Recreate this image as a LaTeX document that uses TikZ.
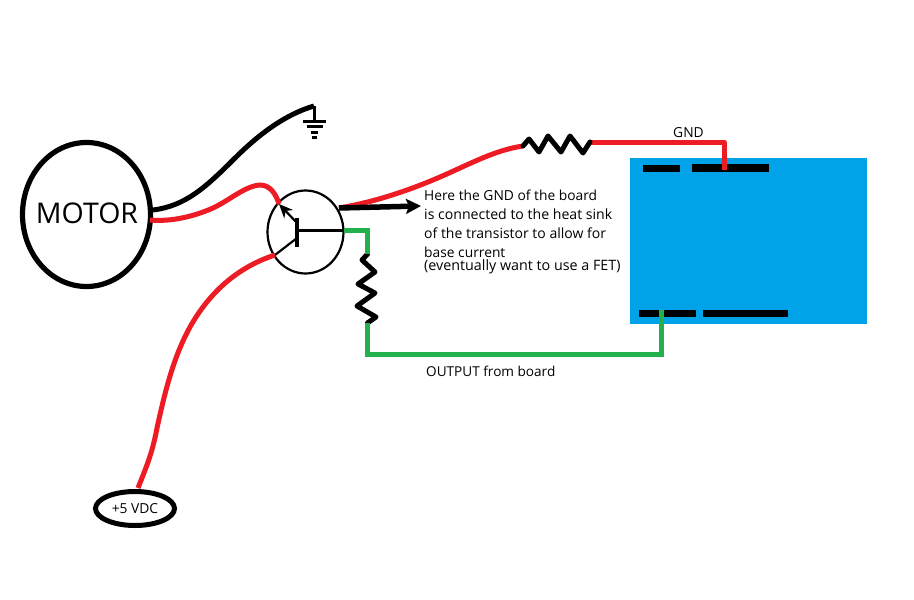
\documentclass[tikz,border=0pt]{standalone}
\usepackage{fontspec}
\setmainfont{Open Sans}
\usetikzlibrary{arrows.meta,shapes.geometric}
\definecolor{wred}{RGB}{237,28,36}
\definecolor{wgreen}{RGB}{34,177,76}
\definecolor{wblue}{RGB}{0,162,232}
\tikzset{
 x=1pt,y=-1pt,
 redw/.style={draw=wred,line width=5pt,line join=round},
 greenw/.style={draw=wgreen,line width=5pt,line join=miter},
 blackw/.style={draw=black,line width=5pt,line join=round},
 zigzag/.style={draw=black,line width=5pt,line join=round,line cap=round},
 thinw/.style={draw=black,line width=2.2pt},
 gndbar/.style={draw=black,line width=3pt},
 pad/.style={fill=black,draw=none},
 lab/.style={inner sep=0pt,anchor=west,font=\fontsize{13.8}{15}\selectfont,text=black},
 roundpart/.style={shape=ellipse,draw=black,inner sep=0pt,outer sep=0pt},
}
\begin{document}
\begin{tikzpicture}
\useasboundingbox[fill=white] (0,0) rectangle (914,600);
% board
\fill[wblue] (630,158) rectangle (867,324);
\fill[pad] (643,165) rectangle (680,172);
\fill[pad] (692,164) rectangle (769,172);
\fill[pad] (639,310) rectangle (696,317);
\fill[pad] (703,310) rectangle (788,317);
% parts
\node[roundpart,line width=5.2pt,minimum width=128pt,minimum height=144pt] (motor) at (86.5,214.5) {};
\node[inner sep=0pt,font=\fontsize{28.5}{30}\selectfont] (motorlabel) at (87,213) {MOTOR};
\node[roundpart,line width=2.2pt,minimum width=76pt,minimum height=83pt] (transistor) at (305.5,232) {};
\node[roundpart,line width=5pt,minimum width=79pt,minimum height=34pt,font=\fontsize{13.8}{15}\selectfont] (vdc) at (135,508.5) {+5 VDC};
% anchors
\coordinate (mB) at (153,210);
\coordinate (mR) at (150,220);
\coordinate (gT) at (314,106);
\coordinate (gB) at (314,121);
\coordinate (tE) at (279,204);
\coordinate (tC) at (275,255);
\coordinate (bT) at (297,218);
\coordinate (bB) at (297,247);
\coordinate (bM) at (297,230.5);
\coordinate (tB) at (344,230.5);
\coordinate (tH) at (339,208);
\coordinate (r1a) at (523,146);
\coordinate (r1b) at (590,142);
\coordinate (gndC) at (724,142);
\coordinate (gndP) at (724,170);
\coordinate (r2a) at (367.5,254);
\coordinate (r2b) at (367.5,323);
\coordinate (outP) at (661,310);
\coordinate (arrowEnd) at (421,206);
% ground
\draw[blackw] (mB) .. controls (185,206) and (205,188) .. (233,160) .. controls (252,141) and (280,116) .. (gT);
\draw[black,line width=3pt] (gT) -- (gB);
\draw[gndbar] (303,121) -- (326,121);
\draw[gndbar] (307,126) -- (323,126);
\draw[gndbar] (311,132) -- (318,132);
\draw[gndbar] (312,137) -- (317,137);
% transistor inside
\draw[black,line width=4.5pt] (bT) -- (bB);
\draw[thinw] (bM) -- (tB);
\draw[thinw] (297,238) -- (tC);
\draw[thinw,-{Stealth[length=14pt,width=12pt]}] (297,223) -- (tE);
% red wires
\draw[redw] (mR) .. controls (172,222) and (195,216) .. (213,208) .. controls (230,200) and (245,186) .. (260,185) .. controls (270,185) and (276,194) .. (tE);
\draw[redw] (tC) .. controls (235,268) and (208,295) .. (190,327) .. controls (173,358) and (165,392) .. (157,428) .. controls (152,455) and (145,470) .. (138,488);
\draw[redw] (tH) .. controls (375,202) and (410,190) .. (440,177) .. controls (470,164) and (495,150) .. (r1a);
\draw[redw] (r1b) -- (gndC) -- (gndP);
% black arrow
\draw[black,line width=5.5pt,-{Stealth[length=15pt,width=15pt,inset=3pt]}] (tH) -- (arrowEnd);
% resistors
\draw[zigzag] (r1a) -- (529,139) -- (539,152) -- (548,136) -- (561,152) -- (570,136) -- (583,153) -- (r1b);
\draw[zigzag] (r2a) -- (362,260) -- (375,272) -- (358,284) -- (375,293) -- (357,306) -- (376,317) -- (r2b);
% green wires
\draw[greenw] (tB) -- (367.5,230.5) -- (r2a);
\draw[greenw] (r2b) -- (367.5,354) -- (661,354) -- (outP);
% texts
\node[lab] (t1) at (424,195) {Here the GND of the board};
\node[lab,font=\fontsize{14.1}{15}\selectfont] (t2) at (424,214) {is connected to the heat sink};
\node[lab,font=\fontsize{14}{15}\selectfont] (t3) at (424,233) {of the transistor to allow for};
\node[lab] (t4) at (424,252) {base current};
\node[lab,font=\fontsize{14.3}{15}\selectfont] (t5) at (424,267) {(eventually want to use a FET)};
\node[lab,font=\fontsize{13.6}{15}\selectfont] (t6) at (426,371) {OUTPUT from board};
\node[lab] (t7) at (673,133) {GND};
\end{tikzpicture}
\end{document}
